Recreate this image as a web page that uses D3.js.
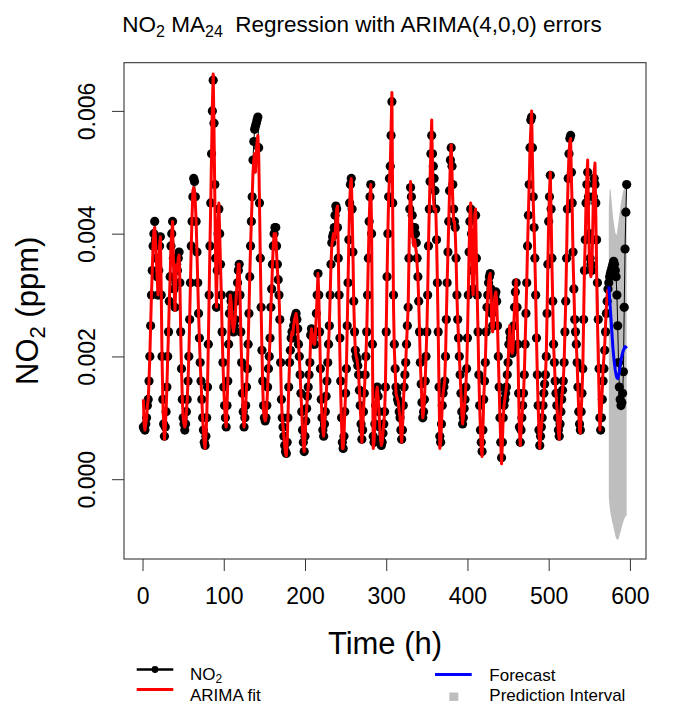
<!DOCTYPE html>
<html>
<head>
<meta charset="utf-8">
<script src="https://cdn.jsdelivr.net/npm/d3@7"></script>
<style>
  body { margin: 0; background: #fff; }
  svg { font-family: "Liberation Sans", Arial, Helvetica, sans-serif; }
</style>
</head>
<body>
<svg id="chart" width="680" height="713"></svg>
<script>
/* NO2 hourly series, ARIMA fit and forecast.
   All values are written in ppb and turned into ppm (/1000) below. */

// observed NO2, hours 1..596
const no2 = [
  0.85, 0.82, 0.8, 0.9, 1.0, 1.2, 1.3, 1.6, 2.0, 2.5,
  3.0, 3.4, 3.8, 4.0, 4.2, 3.9, 3.6, 3.3, 3.0, 3.4,
  3.8, 3.95, 3.0, 2.0, 1.3, 0.9, 0.7, 0.85, 1.1, 1.5,
  2.0, 2.4, 2.9, 3.3, 3.8, 4.0, 4.2, 3.6, 3.1, 2.8,
  3.2, 3.5, 3.4, 3.6, 3.7, 3.2, 2.4, 1.8, 1.3, 1.0,
  0.9, 0.8, 0.9, 1.1, 1.3, 1.6, 2.0, 2.6, 3.2, 3.8,
  4.2, 4.6, 4.9, 4.85, 4.6, 4.2, 3.7, 3.2, 2.7, 2.3,
  1.9, 1.6, 1.3, 1.0, 0.8, 0.6, 0.55, 0.7, 1.0, 1.5,
  2.2, 3.0, 3.8, 4.5, 5.3, 6.0, 6.5, 5.8, 4.8, 3.6,
  2.8, 3.4, 4.0, 4.4, 4.0, 3.5, 3.0, 2.4, 1.9, 1.5,
  1.2, 1.0, 0.85, 1.2, 1.6, 2.2, 2.7, 3.0, 2.9, 2.8,
  2.6, 2.4, 2.5, 2.6, 2.9, 3.0, 3.2, 3.4, 3.5, 3.0,
  2.4, 1.9, 1.4, 1.1, 0.85, 1.0, 1.2, 1.5, 1.8, 2.2,
  2.7, 3.3, 3.8, 4.2, 4.6, 5.2, 5.5, 5.7, 5.75, 5.8,
  5.85, 5.9, 5.4, 4.5, 3.6, 2.8, 2.1, 1.6, 1.2, 1.0,
  0.95, 1.0, 1.2, 1.5, 1.8, 2.0, 2.3, 2.8, 3.1, 3.5,
  3.8, 4.0, 4.1, 4.1, 3.8, 3.5, 3.25, 3.0, 2.6, 1.9,
  1.3, 1.0, 0.85, 0.7, 0.55, 0.45, 0.42, 0.6, 1.0, 1.5,
  1.9, 2.1, 2.3, 2.4, 2.3, 2.5, 2.6, 2.65, 2.7, 2.6,
  2.45, 2.2, 2.0, 1.7, 1.4, 1.1, 0.8, 0.6, 0.45, 0.7,
  0.95, 1.15, 1.35, 1.5, 1.7, 1.9, 2.35, 2.45, 2.4, 2.3,
  2.2, 2.2, 2.4, 2.7, 3.0, 3.35, 3.0, 2.4, 1.8, 1.3,
  1.0, 0.8, 0.7, 0.9, 1.1, 1.35, 1.6, 1.9, 2.2, 2.5,
  3.0, 3.5, 3.85, 3.95, 4.0, 4.1, 4.3, 4.45, 4.4, 4.1,
  3.6, 3.0, 2.3, 1.6, 1.0, 0.6, 0.5, 0.7, 1.1, 1.4,
  1.8, 2.5, 3.2, 3.9, 4.5, 4.8, 4.9, 4.4, 3.7, 2.9,
  2.4, 2.1, 2.0, 1.95, 1.85, 1.7, 1.45, 1.2, 0.9, 0.65,
  0.8, 1.1, 1.4, 1.7, 2.0, 2.4, 3.0, 3.6, 4.2, 4.6,
  4.8, 4.0, 2.2, 0.7, 0.6, 0.9, 1.2, 1.4, 1.5, 1.35,
  1.1, 0.85, 0.65, 0.55, 0.6, 0.75, 0.9, 1.1, 1.5, 2.4,
  3.3, 4.0, 4.6, 4.9, 5.1, 5.6, 6.15, 4.5, 3.0, 2.2,
  1.8, 1.5, 1.4, 1.3, 1.25, 1.1, 1.0, 0.8, 0.65, 0.8,
  1.2, 1.5, 1.7, 1.9, 2.2, 2.5, 2.8, 3.6, 4.4, 4.75,
  4.6, 4.3, 4.1, 4.0, 4.1, 4.0, 3.85, 3.6, 3.3, 2.9,
  2.4, 1.9, 1.55, 1.25, 1.0, 1.1, 1.3, 1.6, 2.0, 2.4,
  3.0, 3.8, 4.4, 4.85, 5.3, 5.6, 5.3, 5.1, 4.9, 4.7,
  4.4, 3.9, 3.2, 2.4, 1.5, 0.7, 0.6, 0.9, 1.2, 1.4,
  1.5, 1.6, 2.0, 2.6, 3.2, 3.7, 4.2, 4.7, 5.2, 5.4,
  5.1, 4.8, 4.4, 4.2, 4.1, 3.6, 3.0, 2.6, 2.3, 2.0,
  1.7, 1.4, 1.1, 0.9, 1.0, 1.15, 1.3, 1.5, 1.8, 2.3,
  3.0, 3.7, 4.2, 4.4, 4.0, 3.4, 3.1, 3.6, 4.3, 4.3,
  3.6, 3.0, 2.4, 1.7, 1.2, 0.8, 0.6, 0.45, 0.8, 1.3,
  1.6, 1.9, 2.4, 2.8, 3.0, 3.2, 3.3, 3.35, 3.1, 2.7,
  2.5, 2.5, 2.9, 3.0, 3.05, 2.9, 2.5, 2.0, 1.5, 1.0,
  0.6, 0.35, 0.6, 1.0, 1.2, 1.3, 1.4, 1.5, 1.7, 1.9,
  2.2, 2.4, 2.3, 2.15, 2.05, 2.1, 2.5, 2.8, 3.05, 3.2,
  2.8, 2.2, 1.4, 0.85, 0.6, 0.8, 1.0, 1.2, 1.4, 1.7,
  2.2, 2.7, 3.2, 3.8, 4.3, 4.8, 5.4, 5.85, 5.9, 5.4,
  4.6, 4.1, 3.6, 3.0, 2.3, 1.7, 1.2, 0.8, 0.55, 0.7,
  0.85, 1.0, 1.2, 1.4, 1.55, 1.7, 2.0, 2.7, 3.5, 4.2,
  4.6, 4.95, 4.4, 3.6, 2.9, 2.2, 1.9, 1.6, 1.4, 1.2,
  1.0, 0.8, 0.7, 0.9, 1.1, 1.3, 1.45, 1.6, 1.9, 2.4,
  2.9, 3.6, 4.4, 4.9, 5.3, 5.55, 5.6, 5.0, 4.5, 3.7,
  3.1, 2.6, 2.4, 2.2, 1.9, 1.5, 1.1, 0.9, 0.8, 1.1,
  1.4, 1.8, 2.6, 3.4, 3.9, 4.5, 4.8, 5.0, 4.6, 4.0,
  3.6, 3.5, 3.4, 3.9, 4.6, 4.9, 4.8, 4.5, 3.9, 3.2,
  2.6, 1.8, 1.0, 0.8, 1.0, 1.3, 1.6, 1.8, 2.1, 2.4,
  2.7, 2.9, 3.1, 3.2, 3.3, 3.35, 3.4, 3.45, 3.5, 3.55,
  3.5, 3.4, 3.3, 3.0, 2.5, 1.9, 1.5, 1.3, 1.2, 1.25,
  1.4, 1.75, 2.8, 3.75, 4.35, 4.8
];

// ARIMA fitted values, hours 1..573
const arimaFit = [
  1.3, 0.9, 0.8, 0.9, 1.0, 1.2, 1.3, 1.6, 2.0, 2.5,
  3.0, 3.4, 3.8, 4.05, 4.1, 3.9, 3.6, 3.3, 3.0, 3.4,
  3.8, 3.95, 3.1, 2.0, 1.3, 0.9, 0.65, 0.85, 1.1, 1.5,
  2.0, 2.4, 2.9, 3.3, 3.8, 4.0, 4.2, 3.6, 3.1, 2.75,
  3.2, 3.5, 3.4, 3.6, 3.65, 3.2, 2.4, 1.8, 1.3, 1.0,
  0.9, 0.85, 0.9, 1.1, 1.3, 1.6, 2.0, 2.6, 3.2, 3.8,
  4.3, 4.7, 4.75, 4.7, 4.5, 4.2, 3.7, 3.2, 2.7, 2.3,
  1.9, 1.6, 1.3, 1.0, 0.8, 0.6, 0.5, 0.7, 1.0, 1.5,
  2.2, 3.0, 3.8, 4.5, 5.3, 6.1, 6.6, 5.7, 4.6, 3.5,
  2.8, 3.5, 4.2, 4.5, 4.0, 3.5, 3.0, 2.4, 1.9, 1.5,
  1.2, 0.95, 0.85, 1.2, 1.6, 2.2, 2.8, 3.0, 2.9, 2.7,
  2.5, 2.4, 2.5, 2.6, 2.9, 3.1, 3.3, 3.5, 3.5, 3.0,
  2.4, 1.9, 1.4, 1.0, 0.85, 1.0, 1.2, 1.5, 1.8, 2.2,
  2.7, 3.3, 3.8, 4.2, 4.6, 5.0, 5.2, 5.3, 5.0, 5.3,
  5.5, 5.6, 5.3, 4.5, 3.6, 2.8, 2.1, 1.5, 1.1, 1.0,
  0.95, 1.0, 1.2, 1.5, 1.8, 2.0, 2.3, 2.8, 3.1, 3.5,
  3.8, 4.0, 4.0, 4.0, 3.7, 3.4, 3.25, 3.0, 2.6, 1.9,
  1.3, 1.0, 0.85, 0.7, 0.55, 0.42, 0.38, 0.6, 1.0, 1.5,
  1.9, 2.1, 2.3, 2.4, 2.35, 2.5, 2.6, 2.65, 2.7, 2.6,
  2.45, 2.2, 2.0, 1.7, 1.4, 1.1, 0.8, 0.55, 0.45, 0.7,
  0.95, 1.15, 1.35, 1.5, 1.7, 1.9, 2.3, 2.45, 2.35, 2.3,
  2.2, 2.2, 2.4, 2.7, 3.0, 3.35, 3.0, 2.4, 1.8, 1.3,
  1.0, 0.8, 0.7, 0.9, 1.1, 1.35, 1.6, 1.9, 2.2, 2.5,
  3.0, 3.5, 3.8, 3.9, 4.0, 3.9, 4.0, 4.2, 4.4, 4.45,
  3.7, 2.8, 2.0, 1.4, 0.9, 0.5, 0.5, 0.7, 1.1, 1.4,
  1.8, 2.5, 3.2, 3.9, 4.5, 4.8, 4.9, 4.4, 3.7, 2.9,
  2.4, 2.1, 2.0, 1.95, 1.85, 1.7, 1.45, 1.2, 0.9, 0.6,
  0.8, 1.1, 1.4, 1.7, 2.0, 2.4, 3.0, 3.6, 4.2, 4.6,
  4.8, 4.1, 2.2, 0.5, 0.6, 0.9, 1.2, 1.4, 1.5, 1.35,
  1.1, 0.85, 0.65, 0.55, 0.6, 0.75, 0.9, 1.1, 1.5, 2.4,
  3.3, 4.0, 4.6, 4.9, 5.1, 5.7, 6.3, 4.3, 2.8, 2.1,
  1.8, 1.4, 1.35, 1.3, 1.25, 1.1, 1.0, 0.75, 0.6, 0.8,
  1.2, 1.5, 1.7, 1.9, 2.2, 2.5, 2.8, 3.6, 4.4, 4.85,
  4.3, 4.0, 3.9, 3.8, 3.9, 3.8, 3.7, 3.5, 3.3, 2.9,
  2.4, 1.9, 1.55, 1.25, 1.0, 1.1, 1.3, 1.6, 2.0, 2.4,
  3.0, 3.8, 4.4, 4.9, 5.4, 5.85, 5.0, 4.6, 4.4, 4.4,
  4.4, 3.9, 3.2, 2.4, 1.5, 0.5, 0.6, 0.9, 1.2, 1.4,
  1.5, 1.6, 2.0, 2.6, 3.2, 3.7, 4.2, 4.7, 5.2, 5.45,
  5.0, 4.5, 4.2, 4.2, 4.0, 3.6, 3.0, 2.6, 2.3, 2.0,
  1.7, 1.4, 1.1, 0.9, 1.0, 1.15, 1.3, 1.5, 1.8, 2.3,
  3.0, 3.7, 4.3, 4.5, 4.0, 3.2, 3.0, 3.6, 4.3, 4.4,
  3.6, 3.0, 2.4, 1.7, 1.2, 0.8, 0.5, 0.37, 0.8, 1.3,
  1.6, 1.9, 2.4, 2.8, 3.0, 3.2, 3.3, 3.35, 3.0, 2.5,
  2.4, 2.5, 2.9, 3.0, 3.05, 2.9, 2.5, 2.0, 1.5, 1.0,
  0.6, 0.25, 0.6, 1.0, 1.2, 1.3, 1.4, 1.5, 1.7, 1.9,
  2.2, 2.5, 2.3, 2.1, 2.05, 2.1, 2.5, 2.8, 3.1, 3.25,
  2.8, 2.2, 1.4, 0.8, 0.55, 0.8, 1.0, 1.2, 1.4, 1.7,
  2.2, 2.7, 3.2, 3.8, 4.3, 4.8, 5.4, 5.7, 6.0, 5.2,
  4.5, 4.1, 3.6, 3.0, 2.3, 1.7, 1.2, 0.8, 0.5, 0.7,
  0.85, 1.0, 1.2, 1.4, 1.55, 1.7, 2.0, 2.7, 3.5, 4.2,
  4.7, 5.0, 4.3, 3.5, 2.9, 2.2, 1.9, 1.6, 1.4, 1.2,
  1.0, 0.75, 0.65, 0.9, 1.1, 1.3, 1.45, 1.6, 1.9, 2.4,
  2.9, 3.6, 4.4, 4.9, 5.3, 5.5, 5.55, 4.9, 4.4, 3.6,
  3.1, 2.6, 2.4, 2.2, 1.9, 1.5, 1.1, 0.8, 0.75, 1.1,
  1.4, 1.8, 2.6, 3.4, 3.9, 4.5, 4.9, 5.2, 4.3, 3.6,
  3.4, 3.3, 3.4, 3.9, 4.6, 5.0, 5.15, 4.3, 3.4, 2.6,
  2.0, 1.4, 0.8, 1.0, 1.2, 1.5, 1.8, 2.0, 2.2, 2.5,
  2.8, 3.0, 3.1
];

// forecast mean and 95% prediction interval, hours 574..596
const forecastMean = [
  3.14, 2.95, 2.75, 2.55, 2.35, 2.15, 2.0, 1.88, 1.78, 1.7,
  1.65, 1.64, 1.68, 1.75, 1.85, 1.94, 2.0, 2.06, 2.1, 2.13,
  2.16, 2.15, 2.13
];
const piUpper = [
  4.4, 4.7, 4.74, 4.6, 4.45, 4.3, 4.2, 4.1, 4.02, 3.98,
  4.0, 4.1, 4.2, 4.3, 4.4, 4.5, 4.58, 4.65, 4.7, 4.74,
  4.77, 4.75, 4.7
];
const piLower = [
  -0.3, -0.45, -0.55, -0.62, -0.68, -0.74, -0.8, -0.86, -0.92, -0.96,
  -0.98, -0.99, -0.97, -0.93, -0.88, -0.83, -0.78, -0.73, -0.69, -0.65,
  -0.62, -0.6, -0.6
];

const xTicks = [0, 100, 200, 300, 400, 500, 600];
const yTicks = [0, 0.002, 0.004, 0.006];
const xLimits = [-22.8, 619.8];
const yLimits = [-0.0013, 0.006785];

const toPpm = v => v / 1000;
const obsPts = no2.map((v, i) => ({ h: i + 1, v: toPpm(v) }));
const fitPts = arimaFit.map((v, i) => ({ h: i + 1, v: toPpm(v) }));
const fcStart = arimaFit.length + 1;
const fcPts = forecastMean.map((v, i) => ({
  h: fcStart + i, v: toPpm(v), lo: toPpm(piLower[i]), hi: toPpm(piUpper[i])
}));

/* ---------- frame ---------- */
const svg = d3.select("#chart");
const box = { left: 124, right: 646, top: 62.7, bottom: 559 };

const x = d3.scaleLinear().domain(xLimits).range([box.left, box.right]);
const y = d3.scaleLinear().domain(yLimits).range([box.bottom, box.top]);

// prediction band first, points go over it
svg.append("path")
  .datum(fcPts)
  .attr("fill", "#bebebe")
  .attr("d", d3.area().x(d => x(d.h)).y0(d => y(d.lo)).y1(d => y(d.hi)));

const lineGen = d3.line().x(d => x(d.h)).y(d => y(d.v));

svg.append("path")
  .datum(obsPts)
  .attr("fill", "none")
  .attr("stroke", "#000")
  .attr("stroke-width", 1)
  .attr("d", lineGen);

svg.append("g").selectAll("circle")
  .data(obsPts)
  .join("circle")
  .attr("cx", d => x(d.h))
  .attr("cy", d => y(d.v))
  .attr("r", 4.6)
  .attr("fill", "#000");

svg.append("path")
  .datum(fitPts)
  .attr("fill", "none")
  .attr("stroke", "#ff0000")
  .attr("stroke-width", 3)
  .attr("stroke-linejoin", "round")
  .attr("d", lineGen);

svg.append("path")
  .datum(fcPts)
  .attr("fill", "none")
  .attr("stroke", "#0000ff")
  .attr("stroke-width", 3)
  .attr("stroke-linejoin", "round")
  .attr("d", lineGen);

svg.append("rect")
  .attr("x", box.left).attr("y", box.top)
  .attr("width", box.right - box.left).attr("height", box.bottom - box.top)
  .attr("fill", "none").attr("stroke", "#222").attr("stroke-width", 1);

/* ---------- axes ---------- */
const xAxis = svg.append("g")
  .attr("transform", `translate(0,${box.bottom})`)
  .call(d3.axisBottom(x).tickValues(xTicks).tickSize(12).tickPadding(17).tickFormat(d3.format("d")));
xAxis.select(".domain").remove();
xAxis.selectAll("line").attr("stroke", "#333");
xAxis.selectAll("text").attr("font-size", 23).attr("fill", "#000")
  .attr("font-family", "Liberation Sans, Arial, sans-serif");

const yAxis = svg.append("g")
  .attr("transform", `translate(${box.left},0)`)
  .call(d3.axisLeft(y).tickValues(yTicks).tickSize(12).tickFormat(d3.format(".3f")));
yAxis.select(".domain").remove();
yAxis.selectAll("line").attr("stroke", "#333");
yAxis.selectAll("text")
  .attr("x", null).attr("dy", null)
  .attr("transform", "translate(-29,0) rotate(-90)")
  .attr("text-anchor", "middle")
  .attr("font-size", 23).attr("fill", "#000")
  .attr("font-family", "Liberation Sans, Arial, sans-serif");

/* ---------- titles ---------- */
const title = svg.append("text")
  .attr("x", 362).attr("y", 31.7)
  .attr("text-anchor", "middle")
  .attr("font-size", 22.5)
  .style("white-space", "pre");
title.append("tspan").text("NO");
title.append("tspan").attr("font-size", 16).attr("dy", 5).text("2");
title.append("tspan").attr("dy", -5).text(" MA");
title.append("tspan").attr("font-size", 16).attr("dy", 5).text("24");
title.append("tspan").attr("dy", -5).text("  Regression with ARIMA(4,0,0) errors");

svg.append("text")
  .attr("x", (box.left + box.right) / 2).attr("y", 654)
  .attr("text-anchor", "middle")
  .attr("font-size", 31)
  .text("Time (h)");

const yTitle = svg.append("text")
  .attr("transform", `translate(38,${(box.top + box.bottom) / 2}) rotate(-90)`)
  .attr("text-anchor", "middle")
  .attr("font-size", 31);
yTitle.append("tspan").text("NO");
yTitle.append("tspan").attr("font-size", 22).attr("dy", 7).text("2");
yTitle.append("tspan").attr("dy", -7).text(" (ppm)");

/* ---------- legend ---------- */
// rows pushed a little apart so their text boxes do not touch
const legend = svg.append("g").attr("font-size", 17);

legend.append("line").attr("x1", 136.7).attr("x2", 173.3).attr("y1", 669.5).attr("y2", 669.5)
  .attr("stroke", "#000").attr("stroke-width", 2.7);
legend.append("circle").attr("cx", 155).attr("cy", 669.5).attr("r", 3.4).attr("fill", "#000");
const lgNo2 = legend.append("text").attr("x", 190).attr("y", 679.5);
lgNo2.append("tspan").text("NO");
lgNo2.append("tspan").attr("font-size", 12).attr("dy", 3).text("2");

legend.append("line").attr("x1", 136.7).attr("x2", 173.3).attr("y1", 689.5).attr("y2", 689.5)
  .attr("stroke", "#ff0000").attr("stroke-width", 3);
legend.append("text").attr("x", 190).attr("y", 701).text("ARIMA fit");

legend.append("line").attr("x1", 435).attr("x2", 471.7).attr("y1", 674.5).attr("y2", 674.5)
  .attr("stroke", "#0000ff").attr("stroke-width", 3);
legend.append("text").attr("x", 489.3).attr("y", 680.5).text("Forecast");

legend.append("rect").attr("x", 449.3).attr("y", 692.5).attr("width", 9).attr("height", 8.4)
  .attr("fill", "#bebebe");
legend.append("text").attr("x", 489.3).attr("y", 701).text("Prediction Interval");
</script>
</body>
</html>
